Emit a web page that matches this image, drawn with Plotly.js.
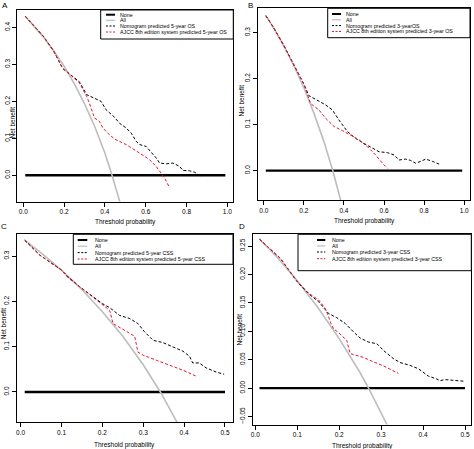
<!DOCTYPE html>
<html><head><meta charset="utf-8">
<script src="https://cdn.plot.ly/plotly-3.0.1.min.js"></script>
<style>html,body{margin:0;padding:0;background:#fff}</style>
</head><body><div id="chart" style="width:474px;height:449px"></div>
<script>
// ---------- DATA ----------
// Panel A: 5-year OS
var noneAx = [0.01, 0.99], noneAy = [0, 0];
var allAx = [0.01, 0.05, 0.1, 0.15, 0.2, 0.25, 0.3, 0.35, 0.4, 0.435, 0.48];
var allAy = [0.430, 0.406, 0.373, 0.336, 0.295, 0.248, 0.194, 0.132, 0.060, 0.0, -0.085];
var nomAx = [0.01, 0.05, 0.1, 0.15, 0.193, 0.234, 0.275, 0.311, 0.357, 0.381, 0.406, 0.447, 0.471, 0.504, 0.529, 0.553, 0.57, 0.602, 0.627, 0.651, 0.668, 0.70, 0.733, 0.766, 0.782, 0.815, 0.84, 0.864, 0.872];
var nomAy = [0.43, 0.405, 0.375, 0.335, 0.289, 0.271, 0.253, 0.218, 0.206, 0.200, 0.177, 0.157, 0.141, 0.128, 0.114, 0.092, 0.083, 0.078, 0.062, 0.047, 0.033, 0.031, 0.033, 0.024, 0.013, 0.012, 0.008, 0.0, -0.003];
var ajAx = [0.01, 0.05, 0.1, 0.15, 0.193, 0.234, 0.275, 0.311, 0.324, 0.349, 0.373, 0.39, 0.414, 0.447, 0.504, 0.57, 0.619, 0.651, 0.668, 0.692, 0.717];
var ajAy = [0.43, 0.405, 0.375, 0.335, 0.289, 0.27, 0.25, 0.213, 0.195, 0.155, 0.146, 0.128, 0.114, 0.098, 0.083, 0.06, 0.042, 0.024, 0.011, -0.007, -0.034];

// Panel B: 3-year OS
var noneBx = [0.01, 0.99], noneBy = [0, 0];
var allBx = [0.01, 0.05, 0.1, 0.15, 0.2, 0.25, 0.3, 0.344, 0.39];
var allBy = [0.337, 0.31, 0.271, 0.228, 0.18, 0.125, 0.063, 0.0, -0.075];
var nomBx = [0.01, 0.05, 0.1, 0.15, 0.2, 0.225, 0.25, 0.267, 0.308, 0.342, 0.375, 0.417, 0.458, 0.5, 0.542, 0.575, 0.617, 0.65, 0.675, 0.708, 0.733, 0.758, 0.783, 0.808, 0.842, 0.875];
var nomBy = [0.337, 0.31, 0.272, 0.23, 0.188, 0.163, 0.157, 0.154, 0.143, 0.132, 0.11, 0.085, 0.07, 0.059, 0.049, 0.041, 0.039, 0.034, 0.023, 0.025, 0.022, 0.016, 0.02, 0.025, 0.02, 0.014];
var ajBx = [0.01, 0.05, 0.1, 0.15, 0.2, 0.233, 0.275, 0.308, 0.35, 0.392, 0.433, 0.475, 0.517, 0.558, 0.592, 0.617];
var ajBy = [0.337, 0.31, 0.272, 0.23, 0.188, 0.146, 0.132, 0.114, 0.096, 0.087, 0.078, 0.067, 0.052, 0.034, 0.016, 0.005];

// Panel C: 5-year CSS
var noneCx = [0.01, 0.5], noneCy = [0, 0];
var allCx = [0.01, 0.05, 0.1, 0.15, 0.2, 0.25, 0.3, 0.342, 0.39];
var allCy = [0.335, 0.307, 0.269, 0.226, 0.177, 0.123, 0.06, 0.0, -0.079];
var nomCx = [0.01, 0.047, 0.1, 0.116, 0.145, 0.173, 0.2, 0.218, 0.242, 0.267, 0.287, 0.303, 0.324, 0.348, 0.372, 0.397, 0.413, 0.421, 0.437, 0.454, 0.478, 0.498];
var nomCy = [0.335, 0.302, 0.269, 0.254, 0.232, 0.214, 0.195, 0.186, 0.169, 0.162, 0.151, 0.133, 0.114, 0.109, 0.099, 0.09, 0.079, 0.064, 0.064, 0.053, 0.044, 0.039];
var ajCx = [0.01, 0.047, 0.1, 0.116, 0.145, 0.173, 0.2, 0.218, 0.226, 0.234, 0.259, 0.279, 0.287, 0.3, 0.332, 0.364, 0.397, 0.429];
var ajCy = [0.335, 0.302, 0.269, 0.252, 0.232, 0.212, 0.192, 0.18, 0.151, 0.147, 0.134, 0.123, 0.088, 0.081, 0.07, 0.059, 0.048, 0.035];

// Panel D: 3-year CSS
var noneDx = [0.01, 0.5], noneDy = [0, 0];
var allDx = [0.01, 0.05, 0.1, 0.15, 0.2, 0.25, 0.27, 0.32];
var allDy = [0.262, 0.232, 0.189, 0.141, 0.087, 0.027, 0.0, -0.073];
var nomDx = [0.01, 0.06, 0.1, 0.127, 0.151, 0.175, 0.194, 0.214, 0.234, 0.25, 0.27, 0.29, 0.306, 0.329, 0.345, 0.369, 0.389, 0.4, 0.413, 0.433, 0.44, 0.452, 0.48, 0.5];
var nomDy = [0.262, 0.228, 0.187, 0.166, 0.152, 0.131, 0.124, 0.114, 0.099, 0.088, 0.081, 0.078, 0.066, 0.052, 0.045, 0.04, 0.034, 0.028, 0.021, 0.016, 0.013, 0.015, 0.014, 0.012];
var ajDx = [0.01, 0.06, 0.1, 0.127, 0.151, 0.167, 0.175, 0.179, 0.187, 0.198, 0.218, 0.226, 0.234, 0.258, 0.282, 0.306, 0.341];
var ajDy = [0.262, 0.228, 0.188, 0.167, 0.155, 0.14, 0.125, 0.116, 0.104, 0.098, 0.084, 0.061, 0.059, 0.054, 0.046, 0.039, 0.026];

// Tick values
var xTicksAB = [0, 0.2, 0.4, 0.6, 0.8, 1.0];
var xTicksCD = [0, 0.1, 0.2, 0.3, 0.4, 0.5];
var yTicksA = [0, 0.1, 0.2, 0.3, 0.4];
var yTicksBC = [0, 0.1, 0.2, 0.3];
var yTicksD = [-0.05, 0, 0.05, 0.1, 0.15, 0.2, 0.25];

// Text
var panelLabels = ["A", "B", "C", "D"];
var xTitle = "Threshold probability";
var yTitle = "Net benefit";
var legendA = ["None", "All", "Nomogram predicted 5-year OS", "AJCC 8th edition system predicted 5-year OS"];
var legendB = ["None", "All", "Nomogram predicted 3-yearOS", "AJCC 8th edition system predicted 3-year OS"];
var legendC = ["None", "All", "Nomogram predicted 5-year CSS", "AJCC 8th edition system predicted 5-year CSS"];
var legendD = ["None", "All", "Nomogram predicted 3-year CSS", "AJCC 8th edition system predicted 3-year CSS"];

// ---------- BUILD ----------
var W = 474, H = 449;
function px(x) { return x / W; }
function py(y) { return 1 - y / H; }
var FONT = '"Liberation Sans", Arial, sans-serif';
var RED = '#e8152b', GRAY = '#bdbdbd';

var styles = [
  {color: '#000', width: 2.4, dash: 'solid'},
  {color: GRAY, width: 1.6, dash: 'solid'},
  {color: '#000', width: 1, dash: '3px,2px'},
  {color: RED, width: 1, dash: '3px,2px'}
];

var panels = [
  {xa: 'x', ya: 'y', series: [[noneAx, noneAy], [allAx, allAy], [nomAx, nomAy], [ajAx, ajAy]]},
  {xa: 'x2', ya: 'y2', series: [[noneBx, noneBy], [allBx, allBy], [nomBx, nomBy], [ajBx, ajBy]]},
  {xa: 'x3', ya: 'y3', series: [[noneCx, noneCy], [allCx, allCy], [nomCx, nomCy], [ajCx, ajCy]]},
  {xa: 'x4', ya: 'y4', series: [[noneDx, noneDy], [allDx, allDy], [nomDx, nomDy], [ajDx, ajDy]]}
];

var traces = [];
panels.forEach(function (p) {
  p.series.forEach(function (s, i) {
    traces.push({x: s[0], y: s[1], xaxis: p.xa, yaxis: p.ya, type: 'scatter', mode: 'lines',
      line: {color: styles[i].color, width: styles[i].width, dash: styles[i].dash},
      showlegend: false, hoverinfo: 'skip'});
  });
});

function xax(domain, range, ticks, anchor) {
  return {domain: domain, range: range, tickvals: ticks, tickformat: '.1f', anchor: anchor,
    ticks: 'outside', ticklen: 4, tickwidth: 1, tickcolor: '#000',
    showline: true, linecolor: '#000', linewidth: 1, mirror: true,
    showgrid: false, zeroline: false, automargin: false,
    tickfont: {size: 6.5, color: '#000', family: FONT}};
}
function yax(domain, range, ticks, fmt, anchor) {
  var a = xax(domain, range, ticks, anchor);
  a.tickformat = fmt;
  a.tickangle = -90;
  return a;
}

var layout = {
  width: W, height: H, autosize: false,
  margin: {l: 0, r: 0, t: 0, b: 0},
  paper_bgcolor: '#fff', plot_bgcolor: '#fff',
  font: {family: FONT, color: '#000'},
  showlegend: false,
  xaxis:  xax([px(17.3), px(233.3)], [-0.029, 1.029], xTicksAB, 'y'),
  yaxis:  yax([py(201.5), py(10)], [-0.071, 0.447], yTicksA, '.1f', 'x'),
  xaxis2: xax([px(258), px(470)], [-0.029, 1.029], xTicksAB, 'y2'),
  yaxis2: yax([py(200), py(8.3)], [-0.064, 0.353], yTicksBC, '.1f', 'x2'),
  xaxis3: xax([px(16.7), px(233)], [-0.0096, 0.5196], xTicksCD, 'y3'),
  yaxis3: yax([py(422.3), py(234.3)], [-0.067, 0.348], yTicksBC, '.1f', 'x3'),
  xaxis4: xax([px(253), px(471.3)], [-0.0055, 0.515], xTicksCD, 'y4'),
  yaxis4: yax([py(424.5), py(234.3)], [-0.064, 0.2706], yTicksD, '.2f', 'x4'),
  shapes: [], annotations: []
};

// Legends (boxes, samples, text)
var legends = [
  {labels: legendA, box: [100.7, 10, 233.3, 39], sx: [106, 115], tx: 117.5, rows: [14.7, 20.3, 26, 32]},
  {labels: legendB, box: [327.7, 8.3, 470, 37.7], sx: [332, 341], tx: 344.3, rows: [14, 19.8, 25.6, 31.5]},
  {labels: legendC, box: [73.3, 234.3, 233, 264.3], sx: [77.7, 87.3], tx: 92.7, rows: [240, 246.2, 252.6, 259]},
  {labels: legendD, box: [298, 234.3, 471.3, 270.7], sx: [317, 325.3], tx: 329.7, rows: [240, 245.9, 252, 258.7]}
];
legends.forEach(function (L) {
  layout.shapes.push({type: 'rect', xref: 'paper', yref: 'paper',
    x0: px(L.box[0]), x1: px(L.box[2]), y0: py(L.box[3]), y1: py(L.box[1]),
    line: {color: '#000', width: 1}, fillcolor: '#fff', layer: 'above'});
  L.labels.forEach(function (t, i) {
    var st = styles[i];
    layout.shapes.push({type: 'line', xref: 'paper', yref: 'paper',
      x0: px(L.sx[0]), x1: px(L.sx[1]), y0: py(L.rows[i]), y1: py(L.rows[i]),
      line: {color: st.color, width: i === 0 ? 2 : (i === 1 ? 1.2 : 1), dash: i >= 2 ? '2px,1.5px' : 'solid'}, layer: 'above'});
    layout.annotations.push({xref: 'paper', yref: 'paper', x: px(L.tx), y: py(L.rows[i]),
      xanchor: 'left', yanchor: 'middle', text: t, showarrow: false,
      font: {size: 5.3, color: '#000', family: FONT}});
  });
});

// Axis titles and panel labels
var xTitlePos = [[125.3, 222], [364, 221], [124.8, 445], [362, 445.5]];
var yTitlePos = [[11.5, 123], [240.5, 100], [3.3, 323], [238.5, 330]];
var labelPos = [[5, 6], [250, 6], [4, 226], [242, 226]];
for (var i = 0; i < 4; i++) {
  layout.annotations.push({xref: 'paper', yref: 'paper', x: px(xTitlePos[i][0]), y: py(xTitlePos[i][1]),
    xanchor: 'center', yanchor: 'middle', text: xTitle, showarrow: false,
    font: {size: 6.5, color: '#000', family: FONT}});
  layout.annotations.push({xref: 'paper', yref: 'paper', x: px(yTitlePos[i][0]), y: py(yTitlePos[i][1]),
    xanchor: 'center', yanchor: 'middle', text: yTitle, textangle: -90, showarrow: false,
    font: {size: 6.5, color: '#000', family: FONT}});
  layout.annotations.push({xref: 'paper', yref: 'paper', x: px(labelPos[i][0]), y: py(labelPos[i][1]),
    xanchor: 'center', yanchor: 'middle', text: panelLabels[i], showarrow: false,
    font: {size: 8, color: '#000', family: FONT}});
}

Plotly.newPlot('chart', traces, layout, {staticPlot: true, displayModeBar: false});
</script></body></html>
